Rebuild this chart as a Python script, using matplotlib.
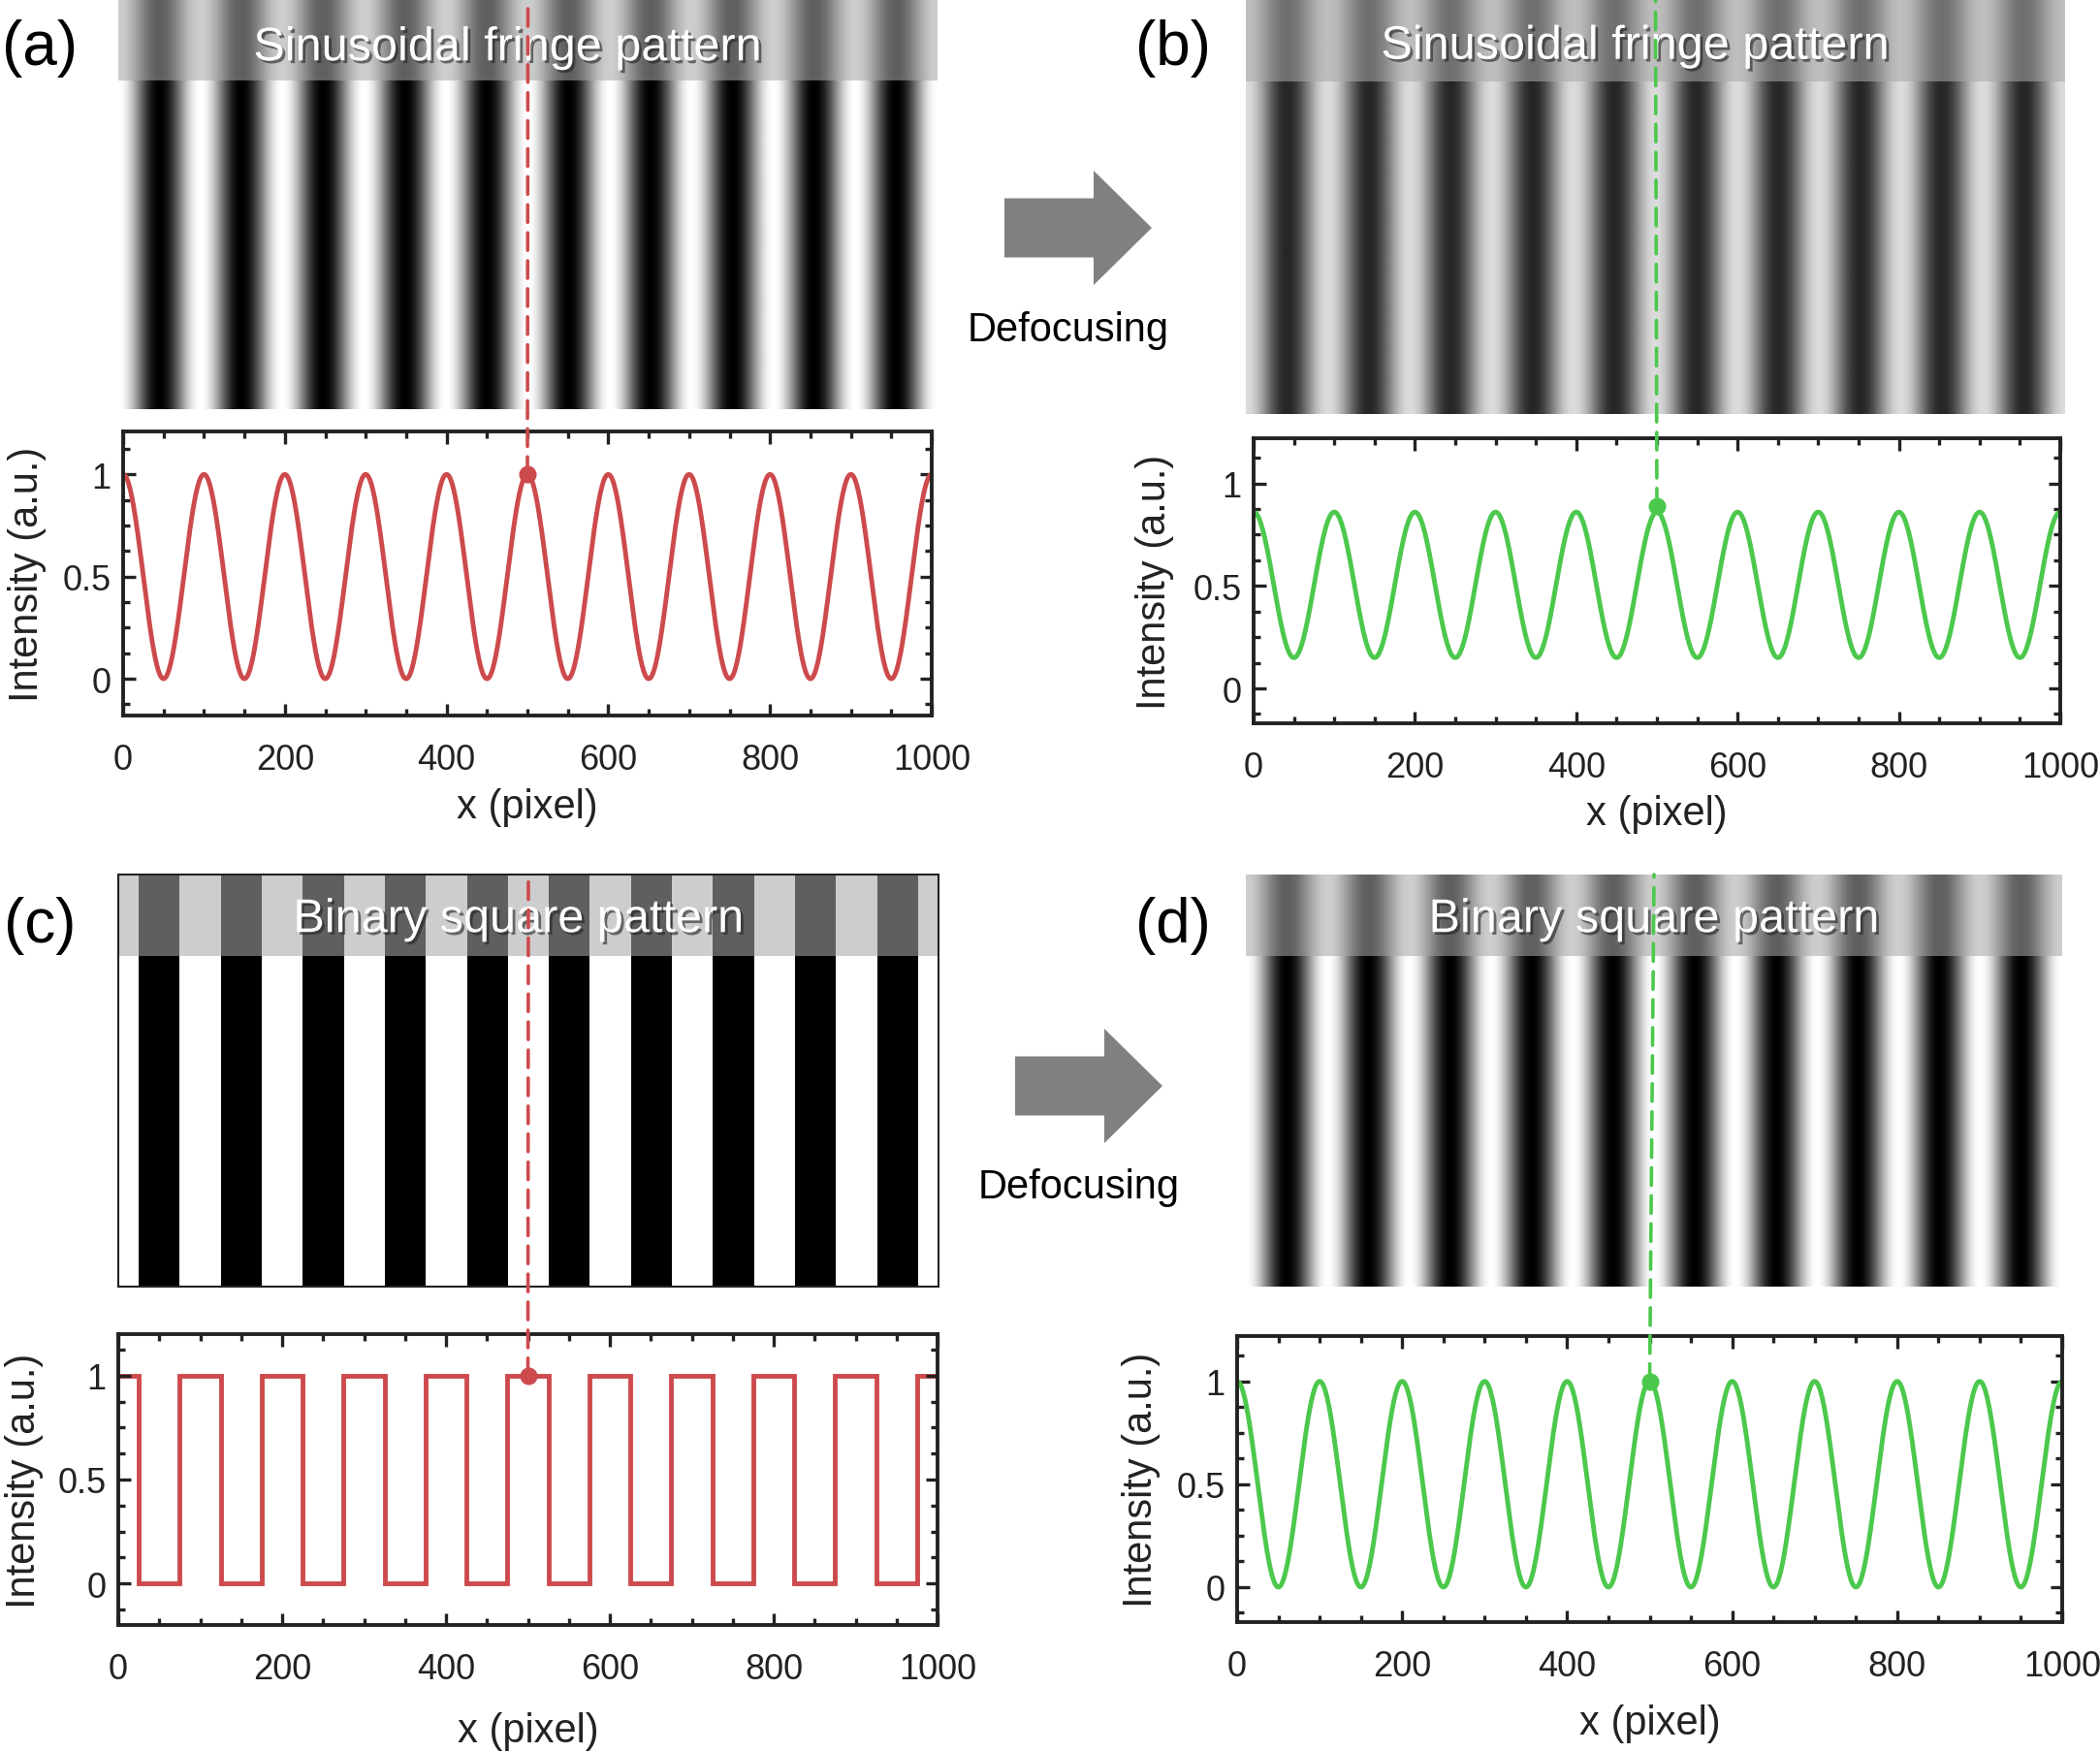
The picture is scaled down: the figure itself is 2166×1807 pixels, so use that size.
import numpy as np
import matplotlib
matplotlib.use('Agg')
import matplotlib.pyplot as plt
import matplotlib.patheffects as pe
from matplotlib.patches import Rectangle, FancyArrow, ConnectionPatch
from matplotlib.ticker import MultipleLocator

# ---- data ----
x_pixel = np.arange(0, 1001)
x_ticks = [0, 200, 400, 600, 800, 1000]
y_ticks = [0, 0.5, 1]
y_ticklabels = ['0', '0.5', '1']

fringe_period = 100          # pixels per fringe
sin_a_range = (0.0, 1.0)     # (trough, peak) of the focused sinusoid
sin_b_range = (0.15, 0.86)   # (trough, peak) after defocusing
sin_d_range = (0.0, 1.0)     # (trough, peak) defocused binary pattern

square_edges = [0, 25, 75, 125, 175, 225, 275, 325, 375, 425, 475, 525,
                575, 625, 675, 725, 775, 825, 875, 925, 975, 1000]
square_levels = [1, 0, 1, 0, 1, 0, 1, 0, 1, 0, 1, 0, 1, 0, 1, 0, 1, 0, 1, 0, 1]

probe_x = 500
probe_y = {'a': 1.0, 'b': 0.89, 'c': 1.0, 'd': 1.0}
titles = {'a': 'Sinusoidal fringe pattern', 'b': 'Sinusoidal fringe pattern',
          'c': 'Binary square pattern', 'd': 'Binary square pattern'}

RED = '#cd4a4c'
GREEN = '#4cc84c'
W, H = 2166, 1808

plt.rcParams['font.family'] = ['Liberation Sans', 'DejaVu Sans']
fig = plt.figure(figsize=(W / 100, H / 100), dpi=100)


def rect(l, t, r, b):
    return [l / W, 1 - b / H, (r - l) / W, (b - t) / H]


def sinus(rng):
    lo, hi = rng
    return lo + (hi - lo) * 0.5 * (1 + np.cos(2 * np.pi * x_pixel / fringe_period))


def image_panel(box, key, title_x, title_y):
    ax = fig.add_axes(rect(*box))
    if key == 'c':
        ax.pcolormesh(square_edges, [0, 1], [square_levels], cmap='gray',
                      vmin=0, vmax=1)
    else:
        rng = {'a': sin_a_range, 'b': sin_b_range, 'd': sin_d_range}[key]
        prof = sinus(rng)
        ax.imshow(np.tile(prof, (10, 1)), cmap='gray', vmin=0, vmax=1,
                  aspect='auto', extent=[0, 1000, 0, 1], interpolation='bilinear')
    ax.set_xlim(0, 1000)
    ax.set_ylim(0, 1)
    ax.add_patch(Rectangle((0, 0.802), 1000, 0.198, facecolor='#a8a8a8',
                           alpha=0.57, edgecolor='none'))
    ax.text(title_x, title_y, titles[key], color='white', fontsize=35,
            ha='center', va='center',
            path_effects=[pe.SimplePatchShadow(offset=(2, -2), shadow_rgbFace='#222222', alpha=0.6),
                          pe.Normal()])
    if key == 'c':
        ax.set_xticks([])
        ax.set_yticks([])
        for s in ax.spines.values():
            s.set_linewidth(1.5)
            s.set_color('#222222')
    else:
        ax.axis('off')
    return ax


def plot_panel(box, key, ylim, xlab_px, ylab_px, color):
    ax = fig.add_axes(rect(*box))
    if key == 'c':
        ax.stairs(square_levels, square_edges, baseline=None, color=color, lw=3.5)
    else:
        rng = {'a': sin_a_range, 'b': sin_b_range, 'd': sin_d_range}[key]
        ax.plot(x_pixel, sinus(rng), color=color, lw=3.5)
    ax.set_xlim(0, 1000)
    ax.set_ylim(*ylim)
    ax.set_xticks(x_ticks)
    ax.set_yticks(y_ticks, y_ticklabels)
    ax.xaxis.set_minor_locator(MultipleLocator(50))
    ax.yaxis.set_minor_locator(MultipleLocator(0.125))
    ax.tick_params(which='both', direction='in', top=True, right=True,
                   width=2.4, color='#222222')
    ax.tick_params(which='major', length=9)
    ax.tick_params(which='minor', length=5)
    ax.tick_params(axis='x', pad=20)
    ax.tick_params(axis='y', pad=9)
    for lab in ax.get_xticklabels() + ax.get_yticklabels():
        lab.set_fontsize(26)
        lab.set_color('#222222')
    for s in ax.spines.values():
        s.set_linewidth(2.8)
        s.set_color('#222222')
    l, t, r, b = box
    ax.set_xlabel('x (pixel)', fontsize=30, va='center', color='#222222')
    ax.xaxis.set_label_coords(0.5, -(xlab_px - b) / (b - t))
    ax.set_ylabel('Intensity (a.u.)', fontsize=30, va='center', color='#222222')
    ax.yaxis.set_label_coords((ylab_px - l) / (r - l), 0.5)
    ax.plot([probe_x], [probe_y[key]], 'o', color=color, ms=12, clip_on=False, zorder=5)
    return ax


panels = {
    'a': dict(img=(122, 0, 967, 423), plot=(127, 446, 961, 739), tx=475, ty=0.88,
              ylim=(-0.18, 1.21), xl=833, yl=28, c=RED),
    'b': dict(img=(1285, 0, 2130, 428), plot=(1293, 453, 2125, 747), tx=475, ty=0.885,
              ylim=(-0.17, 1.22), xl=840, yl=1191, c=GREEN),
    'c': dict(img=(122, 903, 968, 1328), plot=(122, 1377, 967, 1677), tx=488, ty=0.89,
              ylim=(-0.2, 1.2), xl=1786, yl=25, c=RED),
    'd': dict(img=(1285, 903, 2127, 1328), plot=(1276, 1379, 2127, 1674), tx=500, ty=0.89,
              ylim=(-0.17, 1.22), xl=1778, yl=1177, c=GREEN),
}

for key, p in panels.items():
    iax = image_panel(p['img'], key, p['tx'], p['ty'])
    pax = plot_panel(p['plot'], key, p['ylim'], p['xl'], p['yl'], p['c'])
    con = ConnectionPatch(xyA=(probe_x, probe_y[key]), coordsA=pax.transData,
                          xyB=(probe_x, 1.0), coordsB=iax.transData,
                          color=p['c'], lw=2.6, linestyle=(0, (5, 3)), zorder=6)
    fig.add_artist(con)

# panel letters
for lab, (x, y) in {'(a)': (41, 50), '(b)': (1210, 50),
                    '(c)': (41, 955), '(d)': (1210, 955)}.items():
    fig.text(x / W, 1 - y / H, lab, fontsize=46, ha='center', va='center')

# defocusing arrows
for (x0, yc), (tx, ty) in [((1036, 236), (1102, 341)), ((1047, 1121), (1113, 1225))]:
    arr = FancyArrow(x0 / 100, (H - yc) / 100, 1.52, 0, width=0.61,
                     head_width=1.18, head_length=0.60, length_includes_head=True,
                     transform=fig.dpi_scale_trans, color='#808080', lw=0)
    fig.add_artist(arr)
    fig.text(tx / W, 1 - ty / H, 'Defocusing', fontsize=30, ha='center', va='center')

fig.savefig('out.png', dpi=100)
